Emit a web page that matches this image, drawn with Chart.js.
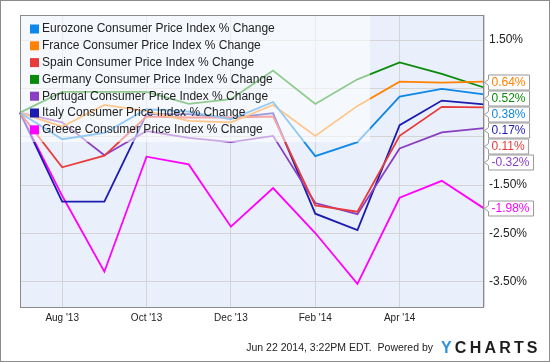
<!DOCTYPE html>
<html>
<head>
<meta charset="utf-8">
<script src="https://cdn.jsdelivr.net/npm/chart.js@4/dist/chart.umd.min.js"></script>
<style>
  html, body { margin: 0; padding: 0; background: #fff; }
  #wrap { width: 550px; height: 362px; position: relative; }
</style>
</head>
<body>
<div id="wrap"><canvas id="cpiChart" width="550" height="362"></canvas></div>
<script>
// monthly % change since Jul '13
const months = ["Jul '13", "Aug '13", "Sep '13", "Oct '13", "Nov '13", "Dec '13",
                "Jan '14", "Feb '14", "Mar '14", "Apr '14", "May '14", "Jun '14"];
const yTicks = [1.5, 0.5, -0.5, -1.5, -2.5, -3.5];

const seriesNames = [
  'Eurozone Consumer Price Index % Change',
  'France Consumer Price Index % Change',
  'Spain Consumer Price Index % Change',
  'Germany Consumer Price Index % Change',
  'Portugal Consumer Price Index % Change',
  'Italy Consumer Price Index % Change',
  'Greece Consumer Price Index % Change'
];
const eurozone = [0, -0.55, -0.42, 0.07, 0.02, -0.14, 0.22, -0.90, -0.61, 0.33, 0.49, 0.38];
const france   = [0, -0.29, 0.16, 0.03, -0.17, -0.20, 0.16, -0.48, 0.14, 0.64, 0.62, 0.64];
const spain    = [0, -1.13, -0.89, -0.08, -0.10, -0.10, -0.08, -1.92, -2.05, -0.48, 0.12, 0.11];
const germany  = [0, 0.43, 0.43, 0.43, 0.18, 0.28, 0.87, 0.18, 0.69, 1.04, 0.80, 0.52];
const portugal = [0, -0.20, -0.88, -0.38, -0.52, -0.61, -0.48, -1.87, -2.10, -0.74, -0.41, -0.32];
const italy    = [0, -1.84, -1.84, -0.03, -0.03, -0.11, -0.01, -2.09, -2.43, -0.26, 0.25, 0.17];
const greece   = [0, -1.72, -3.29, -0.91, -1.07, -2.36, -1.56, -2.49, -3.54, -1.76, -1.41, -1.98];

const allSeries = [eurozone, france, spain, germany, portugal, italy, greece];
const colors = ['#0d87e9', '#ff8200', '#e83b3b', '#0a8a0a', '#8a3fc2', '#1c1cb0', '#ff00ff'];

const FONT = "'Liberation Sans', Arial, sans-serif";
Chart.defaults.font.family = FONT;

// background, legend overlay, end labels, footer
const ychartsLook = {
  id: 'ychartsLook',
  beforeDraw(chart) {
    const { ctx, chartArea: a } = chart;
    ctx.save();
    ctx.fillStyle = '#fff';
    ctx.fillRect(0, 0, chart.width, chart.height);
    ctx.fillStyle = '#e9effb';
    ctx.fillRect(a.left, a.top, a.right - a.left, a.bottom - a.top);
    ctx.restore();
  },
  afterDatasetsDraw(chart) {
    const { ctx, chartArea: a } = chart;
    const yScale = chart.scales.y;
    ctx.save();

    // legend box (semi transparent, lines show through)
    ctx.fillStyle = 'rgba(255,255,255,0.55)';
    ctx.fillRect(a.left, a.top, 350, 127);
    ctx.font = '12px ' + FONT;
    ctx.textBaseline = 'middle';
    ctx.textAlign = 'left';
    seriesNames.forEach((name, i) => {
      const y = 29 + i * 16.8;
      ctx.fillStyle = colors[i];
      ctx.fillRect(30, y - 4.5, 9, 9);
      ctx.fillStyle = '#222';
      ctx.fillText(name, 42, y);
    });

    // plot frame
    ctx.strokeStyle = '#8a8a8a';
    ctx.lineWidth = 1;
    ctx.strokeRect(a.left + 0.5, a.top + 0.5, a.right - a.left - 1, a.bottom - a.top);

    // end-of-series value labels, stacked so they do not overlap
    const ends = allSeries.map((s, i) => ({
      v: s[s.length - 1], color: colors[i], y: yScale.getPixelForValue(s[s.length - 1])
    })).sort((p, q) => p.y - q.y);
    let prev = -Infinity;
    ends.forEach(e => { e.ly = Math.max(e.y, prev + 16); prev = e.ly; });

    // y tick labels, skipped where a value label sits
    ctx.font = '12px ' + FONT;
    ctx.fillStyle = '#222';
    yTicks.forEach(t => {
      const ty = yScale.getPixelForValue(t);
      if (ends.some(e => Math.abs(e.ly - ty) < 13)) return;
      ctx.fillText(t.toFixed(2) + '%', a.right + 5, ty);
    });

    ends.forEach(e => {
      const txt = e.v.toFixed(2) + '%';
      const w = ctx.measureText(txt).width + 7;
      const x0 = a.right + 4.5, y = Math.round(e.ly) + 0.5;
      ctx.beginPath();
      ctx.moveTo(x0, y - 7.5);
      ctx.lineTo(x0 + w, y - 7.5);
      ctx.lineTo(x0 + w, y + 7.5);
      ctx.lineTo(x0, y + 7.5);
      ctx.lineTo(x0, y + 3);
      ctx.lineTo(x0 - 4, y);
      ctx.lineTo(x0, y - 3);
      ctx.closePath();
      ctx.fillStyle = '#fff';
      ctx.fill();
      ctx.strokeStyle = '#999';
      ctx.stroke();
      ctx.fillStyle = e.color;
      ctx.fillText(txt, x0 + 3, y);
    });

    // footer
    ctx.font = '10.5px ' + FONT;
    ctx.fillStyle = '#222';
    ctx.textAlign = 'right';
    ctx.textBaseline = 'alphabetic';
    ctx.fillText("Jun 22 2014, 3:22PM EDT.  Powered by", 433, 351);
    ctx.textAlign = 'left';
    ctx.font = 'bold 16px ' + FONT;
    let x = 441;
    'YCHARTS'.split('').forEach((ch, i) => {
      ctx.fillStyle = i === 0 ? '#2a93e6' : '#1e1e1e';
      ctx.fillText(ch, x, 353);
      x += ctx.measureText(ch).width + 3.2;
    });

    // outer border
    ctx.strokeStyle = '#8c8c8c';
    ctx.strokeRect(0.5, 0.5, chart.width - 1, chart.height - 1);
    ctx.restore();
  }
};

new Chart(document.getElementById('cpiChart'), {
  type: 'line',
  data: {
    labels: months,
    datasets: seriesNames.map((name, i) => ({
      label: name,
      data: allSeries[i],
      borderColor: colors[i],
      backgroundColor: colors[i],
      borderWidth: 1.8,
      pointRadius: 0,
      tension: 0,
      fill: false
    }))
  },
  options: {
    responsive: false,
    animation: false,
    layout: { padding: { left: 20, top: 15, right: 0, bottom: 0 } },
    plugins: { legend: { display: false }, tooltip: { enabled: false } },
    scales: {
      x: {
        offset: false,
        grid: {
          offset: false,
          drawTicks: false,
          color: ctx => (ctx.index % 2 === 1 ? '#d4d4d4' : 'rgba(0,0,0,0)')
        },
        border: { display: false },
        ticks: {
          autoSkip: false,
          maxRotation: 0,
          padding: 5,
          color: '#222',
          font: { size: 10 },
          callback: (v, i) => (i % 2 === 1 && i < months.length - 1 ? months[i] : '')
        },
        afterFit: s => { s.height = 55; }
      },
      y: {
        position: 'right',
        min: -4.02,
        max: 2.02,
        afterBuildTicks: s => { s.ticks = yTicks.map(v => ({ value: v })); },
        grid: { drawTicks: false, color: '#d4d4d4' },
        border: { display: false },
        ticks: { display: false },
        afterFit: s => { s.width = 66; }
      }
    }
  },
  plugins: [ychartsLook]
});
</script>
</body>
</html>
